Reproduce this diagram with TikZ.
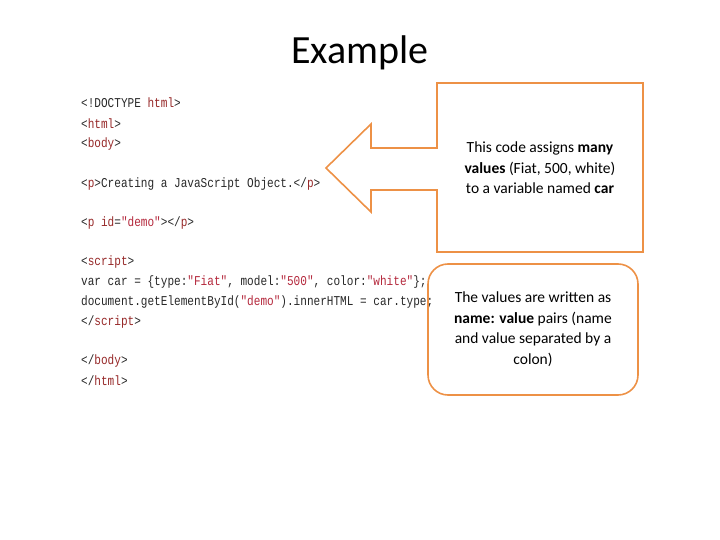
\documentclass[tikz,border=0pt]{standalone}
\usepackage{fontspec}
\setmainfont{Carlito}
\newfontfamily\codefont{Liberation Mono}
\definecolor{orng}{RGB}{237,145,70}
\definecolor{codegray}{RGB}{40,40,40}
\definecolor{tagc}{RGB}{150,40,40}
\definecolor{strc}{RGB}{180,40,60}
\begin{document}
\begin{tikzpicture}[x=1pt,y=-1pt,
  code/.style={anchor=west,inner sep=0pt,xscale=0.82,transform shape,font=\codefont\fontsize{13.5}{15}\selectfont,text=codegray},
  note/.style={align=center,font=\fontsize{15.5}{20.5}\selectfont},
  frame/.style={draw=orng,line width=1.6pt}]
\useasboundingbox (0,0) rectangle (720,540);
\node (title) at (360,53) {\fontsize{40}{48}\selectfont Example};
\node[code] (l1) at (81,103) {<!DOCTYPE \textcolor{tagc}{html}>};
\node[code] (l2) at (81,124) {<\textcolor{tagc}{html}>};
\node[code] (l3) at (81,144) {<\textcolor{tagc}{body}>};
\node[code] (l4) at (81,184) {<\textcolor{tagc}{p}>Creating a JavaScript Object.</\textcolor{tagc}{p}>};
\node[code] (l5) at (81,223) {<\textcolor{tagc}{p} \textcolor{tagc}{id}=\textcolor{strc}{"demo"}></\textcolor{tagc}{p}>};
\node[code] (l6) at (81,262) {<\textcolor{tagc}{script}>};
\node[code] (l7) at (81,282) {var car = \{type:\textcolor{strc}{"Fiat"}, model:\textcolor{strc}{"500"}, color:\textcolor{strc}{"white"}\};};
\node[code] (l8) at (81,302) {document.getElementById(\textcolor{strc}{"demo"}).innerHTML = car.type;};
\node[code] (l9) at (81,322) {</\textcolor{tagc}{script}>};
\node[code] (l10) at (81,361) {</\textcolor{tagc}{body}>};
\node[code] (l11) at (81,381) {</\textcolor{tagc}{html}>};
\draw[frame] (371,148) -- (371,124) -- (326,168) -- (371,212) -- (371,190) -- (437,190)
  -- (437,252) -- (643,252) -- (643,83) -- (437,83) -- (437,148) -- cycle;
\node[note] (n1) at (540,168) {This code assigns \textbf{many}\\ \textbf{values} (Fiat, 500, white)\\ to a variable named \textbf{car}};
\draw[frame,rounded corners=20pt] (428,264) rectangle (638,395);
\node[note] (n2) at (533,329) {The values are written as\\ \textbf{name: value} pairs (name\\ and value separated by a\\ colon)};
\end{tikzpicture}
\end{document}
